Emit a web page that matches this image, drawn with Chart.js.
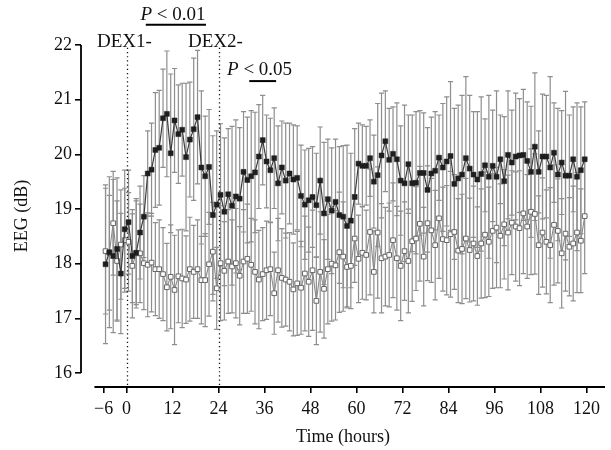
<!DOCTYPE html>
<html>
<head>
<meta charset="utf-8">
<script src="https://cdn.jsdelivr.net/npm/chart.js@4.4.1/dist/chart.umd.min.js"></script>
<style>
  html, body { margin: 0; padding: 0; background: #fff; }
  #wrap { width: 611px; height: 450px; }
</style>
</head>
<body>
<div id="wrap"><canvas id="eegChart" width="611" height="450"></canvas></div>
<script>
// hourly samples, plotted at the middle of each hour bin (-6 .. 120 h)
const hours = Array.from({ length: 126 }, (_, i) => i - 5.5);

// filled squares
const filledMean = [
  17.99, 18.21, 18.14, 18.27, 17.82, 18.63,
  18.76, 18.14, 18.20, 18.57, 18.86, 19.65, 19.72, 20.08, 20.12, 20.66,
  20.74, 20.02, 20.62, 20.37, 20.45, 19.95, 20.27, 20.46, 20.68, 19.76,
  19.60, 19.77, 18.89, 19.08, 19.26, 18.95, 19.27, 19.06, 19.23, 19.19,
  19.68, 19.53, 19.60, 19.67, 19.96, 20.26, 19.87, 19.71, 19.93, 19.47,
  19.76, 19.52, 19.65, 19.54, 19.57, 19.24, 19.08, 19.16, 19.22, 19.07,
  19.52, 18.92, 19.18, 18.97, 19.13, 18.89, 18.86, 18.69, 18.79, 19.22,
  19.83, 19.79, 19.79, 19.93, 19.50, 19.62, 19.98, 20.24, 19.90, 20.01,
  19.91, 19.52, 19.47, 19.82, 19.47, 19.48, 19.66, 19.66, 19.35, 19.65,
  19.70, 19.94, 19.76, 19.87, 19.97, 19.46, 19.56, 19.63, 19.93, 19.74,
  19.63, 19.54, 19.64, 19.80, 19.59, 19.79, 19.59, 19.91, 19.51, 19.99,
  19.85, 19.96, 19.98, 19.99, 19.88, 19.68, 20.14, 19.68, 19.96, 19.96,
  19.76, 20.03, 19.63, 19.85, 19.61, 19.61, 19.91, 19.59, 19.71, 19.91
];
const filledErr = [
  1.45, 1.38, 1.40, 1.30, 1.10, 1.08,
  0.95, 0.85, 0.95, 0.85, 0.75, 0.78, 0.85, 1.05, 1.05, 0.90,
  1.15, 1.45, 0.95, 0.90, 0.85, 1.35, 1.05, 1.30, 1.22, 1.40,
  1.10, 1.05, 1.45, 1.35, 1.30, 1.35, 1.20, 1.45, 1.40, 1.30,
  1.10, 1.15, 1.20, 1.10, 0.95, 0.82, 0.85, 0.95, 0.92, 1.05,
  0.85, 1.05, 0.92, 1.00, 0.95, 0.93, 1.00, 0.95, 0.92, 0.95,
  0.98, 1.30, 1.10, 1.15, 1.15, 1.25, 1.30, 1.48, 1.23, 1.25,
  0.74, 0.75, 0.72, 0.70, 0.85, 1.31, 1.14, 0.92, 0.94, 0.86,
  1.03, 1.00, 1.43, 0.90, 1.25, 1.30, 1.14, 1.10, 1.14, 1.03,
  1.08, 0.78, 1.17, 1.18, 1.36, 1.38, 1.34, 1.45, 1.49, 1.34,
  1.15, 1.24, 1.41, 0.85, 1.49, 1.02, 1.57, 0.81, 1.18, 1.17,
  0.96, 1.16, 1.04, 1.20, 1.08, 1.20, 1.35, 0.75, 1.14, 1.12,
  1.66, 0.91, 1.21, 0.95, 1.54, 1.11, 0.96, 1.35, 1.16, 1.05
];

// open squares
const openMean = [
  18.23, 18.20, 18.74, 18.05, 18.35, 18.43,
  18.40, 17.96, 18.19, 18.19, 18.01, 17.98, 18.02, 17.90, 17.90, 17.81,
  17.57, 17.76, 17.52, 17.77, 17.73, 17.71, 17.90, 17.85, 17.90, 17.70,
  17.70, 17.99, 18.22, 17.55, 18.01, 17.87, 18.04, 17.95, 18.01, 17.78,
  18.04, 18.09, 17.98, 17.85, 17.71, 17.81, 17.88, 17.90, 17.46, 17.88,
  17.74, 17.71, 17.67, 17.53, 17.64, 17.56, 17.82, 17.67, 17.88, 17.32,
  17.85, 17.54, 17.90, 18.00, 17.97, 18.21, 18.13, 17.94, 17.96, 18.46,
  18.09, 18.20, 18.16, 18.58, 17.85, 18.57, 18.10, 18.13, 18.16, 18.43,
  18.10, 17.96, 18.23, 18.05, 18.41, 18.46, 18.73, 18.13, 18.74, 18.61,
  18.34, 18.83, 18.45, 18.43, 18.54, 18.58, 18.24, 18.27, 18.46, 18.25,
  18.37, 18.14, 18.37, 18.53, 18.40, 18.60, 18.66, 18.51, 18.72, 18.57,
  18.75, 18.68, 18.65, 18.92, 18.68, 18.95, 18.91, 18.34, 18.57, 18.40,
  18.34, 18.71, 18.60, 18.19, 18.55, 18.31, 18.37, 18.57, 18.42, 18.87
];
const openErr = [
  1.15, 1.05, 0.95, 1.10, 1.00, 0.95,
  0.90, 0.95, 1.00, 0.90, 0.85, 0.95, 0.90, 0.85, 0.90, 0.85,
  0.80, 0.95, 1.00, 0.85, 0.90, 0.80, 0.95, 0.85, 0.90, 0.80,
  0.85, 0.95, 0.90, 0.75, 1.05, 0.90, 0.95, 0.85, 1.00, 0.90,
  0.95, 1.00, 0.85, 0.95, 0.90, 0.85, 0.90, 0.85, 0.75, 0.95,
  0.90, 0.85, 0.90, 0.85, 0.95, 0.85, 1.05, 1.00, 1.10, 0.80,
  1.10, 0.90, 1.00, 1.05, 1.00, 1.10, 1.00, 0.75, 0.78, 0.80,
  0.80, 0.85, 0.82, 1.15, 0.75, 1.20, 1.00, 0.90, 0.95, 1.05,
  0.95, 1.00, 0.90, 0.95, 1.10, 0.95, 1.05, 0.90, 1.05, 0.95,
  1.00, 1.10, 0.95, 1.00, 1.15, 1.05, 0.95, 1.00, 1.10, 0.95,
  1.05, 0.90, 1.00, 1.15, 1.00, 1.05, 1.10, 0.95, 1.00, 1.05,
  0.95, 1.00, 1.05, 1.10, 0.95, 1.15, 1.10, 0.90, 1.00, 0.95,
  1.05, 1.10, 0.95, 1.00, 1.05, 0.90, 1.05, 1.10, 0.95, 1.05
];

const xTickValues = [-6, 0, 12, 24, 36, 48, 60, 72, 84, 96, 108, 120];
const xTickLabels = ['\u22126', '0', '12', '24', '36', '48', '60', '72', '84', '96', '108', '120'];
const yTickValues = [16, 17, 18, 19, 20, 21, 22];

// injection times and significance periods (hours)
const dexTimes = [0, 24];
const dexLabels = ['DEX1-', 'DEX2-'];
const sigPeriods = [[5, 20.7], [32, 39]];
const sigLabels = ['< 0.01', '< 0.05'];

const SERIF = '"Liberation Serif", "DejaVu Serif", serif';

// error bars drawn under the markers
const errorBars = {
  id: 'errorBars',
  beforeDatasetsDraw(chart) {
    const ctx = chart.ctx, y = chart.scales.y;
    ctx.save();
    ctx.strokeStyle = '#8e8e8e';
    ctx.lineWidth = 1.2;
    chart.data.datasets.forEach((ds, di) => {
      const meta = chart.getDatasetMeta(di);
      meta.data.forEach((pt, i) => {
        const v = ds.data[i].y, e = ds.errors[i];
        const top = y.getPixelForValue(v + e), bot = y.getPixelForValue(v - e);
        ctx.beginPath();
        ctx.moveTo(pt.x, top); ctx.lineTo(pt.x, bot);
        ctx.moveTo(pt.x - 2.6, top); ctx.lineTo(pt.x + 2.6, top);
        ctx.moveTo(pt.x - 2.6, bot); ctx.lineTo(pt.x + 2.6, bot);
        ctx.stroke();
      });
    });
    ctx.restore();
  }
};

// detached axis lines, dotted injection lines and the text notes
const decorations = {
  id: 'decorations',
  beforeDatasetsDraw(chart) {
    const ctx = chart.ctx, x = chart.scales.x, y = chart.scales.y, ca = chart.chartArea;
    ctx.save();
    ctx.strokeStyle = '#111';
    ctx.lineWidth = 1.3;
    ctx.setLineDash([1.2, 3]);
    dexTimes.forEach(t => {
      const px = Math.round(x.getPixelForValue(t)) + 0.5;
      ctx.beginPath();
      ctx.moveTo(px, y.getPixelForValue(21.95));
      ctx.lineTo(px, ca.bottom - 2);
      ctx.stroke();
    });
    ctx.restore();
  },
  afterDraw(chart) {
    const ctx = chart.ctx, x = chart.scales.x, y = chart.scales.y, ca = chart.chartArea;
    ctx.save();
    ctx.strokeStyle = '#000';
    ctx.lineWidth = 1.8;
    ctx.beginPath();
    ctx.moveTo(ca.left, y.getPixelForValue(22));
    ctx.lineTo(ca.left, y.getPixelForValue(16));
    ctx.moveTo(x.getPixelForValue(-8.4), ca.bottom);
    ctx.lineTo(ca.right, ca.bottom);
    ctx.stroke();

    ctx.fillStyle = '#111';
    ctx.textBaseline = 'middle';
    ctx.font = '19px ' + SERIF;
    ctx.fillText(dexLabels[0], x.getPixelForValue(-7.75), y.getPixelForValue(22.06));
    ctx.fillText(dexLabels[1], x.getPixelForValue(16.0), y.getPixelForValue(22.06));

    const pText = [
      { left: 3.6, v: 22.55, bar: 22.37 },
      { left: 26.2, v: 21.54, bar: 21.34 }
    ];
    pText.forEach((p, i) => {
      const lx = x.getPixelForValue(p.left), ly = y.getPixelForValue(p.v);
      ctx.font = 'italic 19px ' + SERIF;
      ctx.fillText('P', lx, ly);
      const w = ctx.measureText('P ').width;
      ctx.font = '19px ' + SERIF;
      ctx.fillText(sigLabels[i], lx + w, ly);
      ctx.lineWidth = 2;
      ctx.beginPath();
      const by = y.getPixelForValue(p.bar);
      ctx.moveTo(x.getPixelForValue(sigPeriods[i][0]), by);
      ctx.lineTo(x.getPixelForValue(sigPeriods[i][1]), by);
      ctx.stroke();
    });
    ctx.restore();
  }
};

new Chart(document.getElementById('eegChart').getContext('2d'), {
  type: 'line',
  data: {
    datasets: [
      {
        data: hours.map((h, i) => ({ x: h, y: filledMean[i] })),
        errors: filledErr,
        borderColor: '#3c3c3c',
        borderWidth: 1.2,
        pointStyle: 'rect',
        pointRadius: 3.5,
        pointBackgroundColor: '#1e1e1e',
        pointBorderColor: '#1e1e1e',
        pointBorderWidth: 0.5,
        tension: 0
      },
      {
        data: hours.map((h, i) => ({ x: h, y: openMean[i] })),
        errors: openErr,
        borderColor: '#8a8a8a',
        borderWidth: 1.1,
        pointStyle: 'rect',
        pointRadius: 3.3,
        pointBackgroundColor: '#ffffff',
        pointBorderColor: '#666666',
        pointBorderWidth: 1,
        tension: 0
      }
    ]
  },
  options: {
    responsive: false,
    animation: false,
    layout: { padding: { top: 45, right: 6, left: 0, bottom: 0 } },
    plugins: { legend: { display: false }, tooltip: { enabled: false } },
    scales: {
      x: {
        type: 'linear',
        min: -11.9,
        max: 124.8,
        afterBuildTicks: s => { s.ticks = xTickValues.map(v => ({ value: v })); },
        afterFit: s => { s.height = 63; },
        grid: { drawOnChartArea: false, drawTicks: true, tickLength: 6, color: '#000', lineWidth: 1.6 },
        border: { display: false },
        ticks: {
          autoSkip: false,
          maxRotation: 0,
          padding: 5,
          color: '#111',
          font: { family: SERIF, size: 18 },
          callback: v => xTickLabels[xTickValues.indexOf(v)]
        },
        title: {
          display: true,
          text: 'Time (hours)',
          color: '#111',
          font: { family: SERIF, size: 18 },
          padding: { top: 0, bottom: 2 }
        }
      },
      y: {
        min: 15.745,
        max: 22,
        afterBuildTicks: s => { s.ticks = yTickValues.map(v => ({ value: v })); },
        afterFit: s => { s.width = 81; },
        grid: { drawOnChartArea: false, drawTicks: true, tickLength: 6, color: '#000', lineWidth: 1.6 },
        border: { display: false },
        ticks: {
          padding: 3,
          color: '#111',
          font: { family: SERIF, size: 18 }
        },
        title: {
          display: true,
          text: 'EEG (dB)',
          color: '#111',
          font: { family: SERIF, size: 18 },
          padding: { top: 11, bottom: 0 }
        }
      }
    }
  },
  plugins: [errorBars, decorations]
});
</script>
</body>
</html>
